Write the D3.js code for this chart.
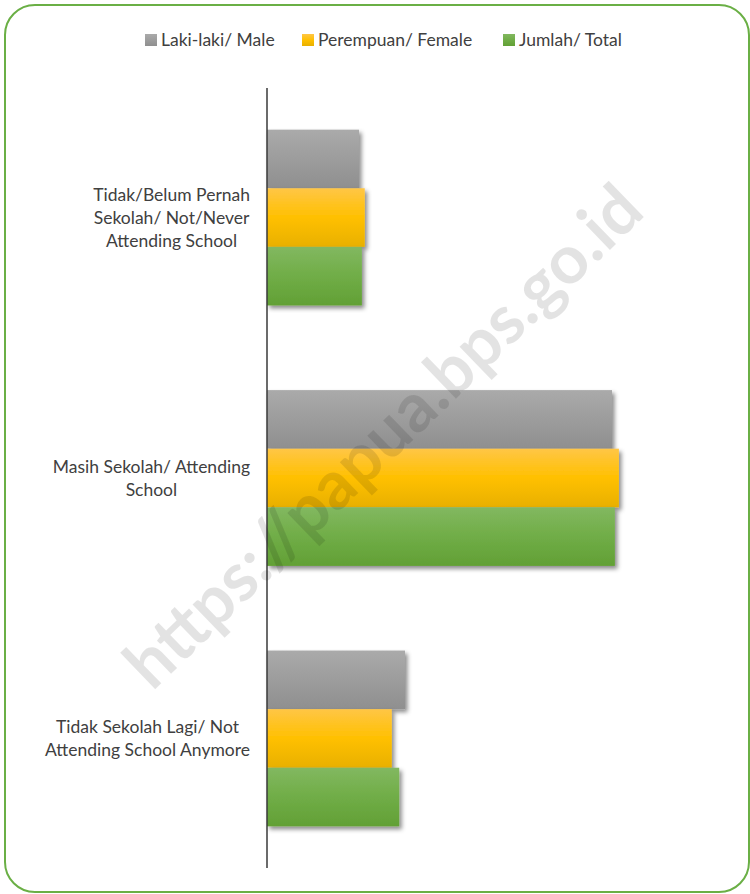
<!DOCTYPE html>
<html>
<head>
<meta charset="utf-8">
<script src="https://cdn.jsdelivr.net/npm/d3@7"></script>
<style>
  html, body { margin: 0; padding: 0; background: #fff; }
  svg { display: block; }
  text { font-family: Lato, "Open Sans", sans-serif; }
</style>
</head>
<body>
<svg id="chart" width="750" height="894"></svg>
<script>
// Status of schooling, percentage of population by sex
const categories = [
  "Tidak/Belum Pernah Sekolah/ Not/Never Attending School",
  "Masih Sekolah/ Attending School",
  "Tidak Sekolah Lagi/ Not Attending School Anymore"
];
const categoryLines = [
  ["Tidak/Belum Pernah", "Sekolah/ Not/Never", "Attending School"],
  ["Masih Sekolah/ Attending", "School"],
  ["Tidak Sekolah Lagi/ Not", "Attending School Anymore"]
];
const seriesNames = ["Laki-laki/ Male", "Perempuan/ Female", "Jumlah/ Total"];
const male   = [16.0, 60.0, 24.0];
const female = [17.0, 61.2, 21.7];
const total  = [16.5, 60.5, 23.0];
const seriesValues = [male, female, total];

const svg = d3.select("#chart");
const defs = svg.append("defs");

// vertical gradients for each series
const gradStops = [
  [["0%", "#aaaaaa"], ["100%", "#8f8f8f"]],
  [["0%", "#ffc646"], ["50%", "#ffc000"], ["100%", "#e8b000"]],
  [["0%", "#82b860"], ["50%", "#70ad47"], ["100%", "#62a035"]]
];
gradStops.forEach((stops, i) => {
  const g = defs.append("linearGradient")
    .attr("id", "grad" + i).attr("x1", 0).attr("y1", 0).attr("x2", 0).attr("y2", 1);
  stops.forEach(s => g.append("stop").attr("offset", s[0]).attr("stop-color", s[1]));
});

const shadow = defs.append("filter").attr("id", "shadow")
  .attr("x", "-10%").attr("y", "-20%").attr("width", "130%").attr("height", "150%");
shadow.append("feDropShadow")
  .attr("dx", 2.5).attr("dy", 3).attr("stdDeviation", 2)
  .attr("flood-color", "#000").attr("flood-opacity", 0.45);

// outer rounded frame
svg.append("rect")
  .attr("x", 5).attr("y", 5).attr("width", 744).attr("height", 887)
  .attr("rx", 30).attr("ry", 30)
  .attr("fill", "#fff").attr("stroke", "#6aaf45").attr("stroke-width", 2);

// scales
const x = d3.scaleLinear().domain([0, 100]).range([267, 842]);
const y0 = d3.scaleBand().domain(categories).range([88, 868]).paddingInner(0.325).paddingOuter(0.16);
const y1 = d3.scaleBand().domain(d3.range(seriesNames.length)).range([0, y0.bandwidth()]).padding(0);

// bars
const groups = svg.append("g").selectAll("g")
  .data(categories).join("g")
  .attr("transform", d => `translate(0,${y0(d)})`);

groups.each(function(cat, ci) {
  d3.select(this).selectAll("rect")
    .data(seriesValues.map((s, si) => ({ si, v: s[ci] })))
    .join("rect")
    .attr("x", x(0))
    .attr("y", d => y1(d.si))
    .attr("width", d => x(d.v) - x(0))
    .attr("height", y1.bandwidth())
    .attr("fill", d => `url(#grad${d.si})`)
    .attr("filter", "url(#shadow)");
});

// vertical category axis line
svg.append("line")
  .attr("x1", x(0)).attr("x2", x(0)).attr("y1", 88).attr("y2", 868)
  .attr("stroke", "#3a3a3a").attr("stroke-width", 1.5);

// category labels: each label block is right-aligned to the axis,
// with its lines centred inside the block
const lineH = 23;
const labelRight = 250;
svg.append("g").selectAll("text")
  .data(categories).join("text")
  .attr("text-anchor", "middle")
  .attr("font-size", 17.5)
  .attr("fill", "#404040")
  .each(function(cat, ci) {
    const lines = categoryLines[ci];
    const cy = y0(cat) + y0.bandwidth() / 2;
    const startY = cy - (lines.length - 1) * lineH / 2;
    const spans = d3.select(this).selectAll("tspan").data(lines).join("tspan")
      .attr("y", (d, i) => startY + i * lineH)
      .attr("dy", "0.35em")
      .text(d => d);
    let maxW = 0;
    spans.each(function() { maxW = Math.max(maxW, this.getComputedTextLength()); });
    spans.attr("x", labelRight - maxW / 2);
  });

// legend
const legendX = [145, 302, 503];
const legend = svg.append("g").selectAll("g")
  .data(seriesNames).join("g")
  .attr("transform", (d, i) => `translate(${legendX[i]},40)`);
legend.append("rect")
  .attr("x", 0).attr("y", -6).attr("width", 12).attr("height", 12)
  .attr("fill", (d, i) => `url(#grad${i})`);
legend.append("text")
  .attr("x", 16).attr("y", 0).attr("dy", "0.35em")
  .attr("font-size", 17.5).attr("fill", "#404040")
  .text(d => d);

// watermark
svg.append("text")
  .attr("transform", "translate(383,436) rotate(-44)")
  .attr("text-anchor", "middle").attr("dy", "0.35em")
  .attr("font-family", "'Liberation Sans', Arial, sans-serif")
  .attr("font-weight", "bold").attr("font-size", 68)
  .attr("fill", "#000").attr("fill-opacity", 0.11)
  .text("https://papua.bps.go.id");
</script>
</body>
</html>
